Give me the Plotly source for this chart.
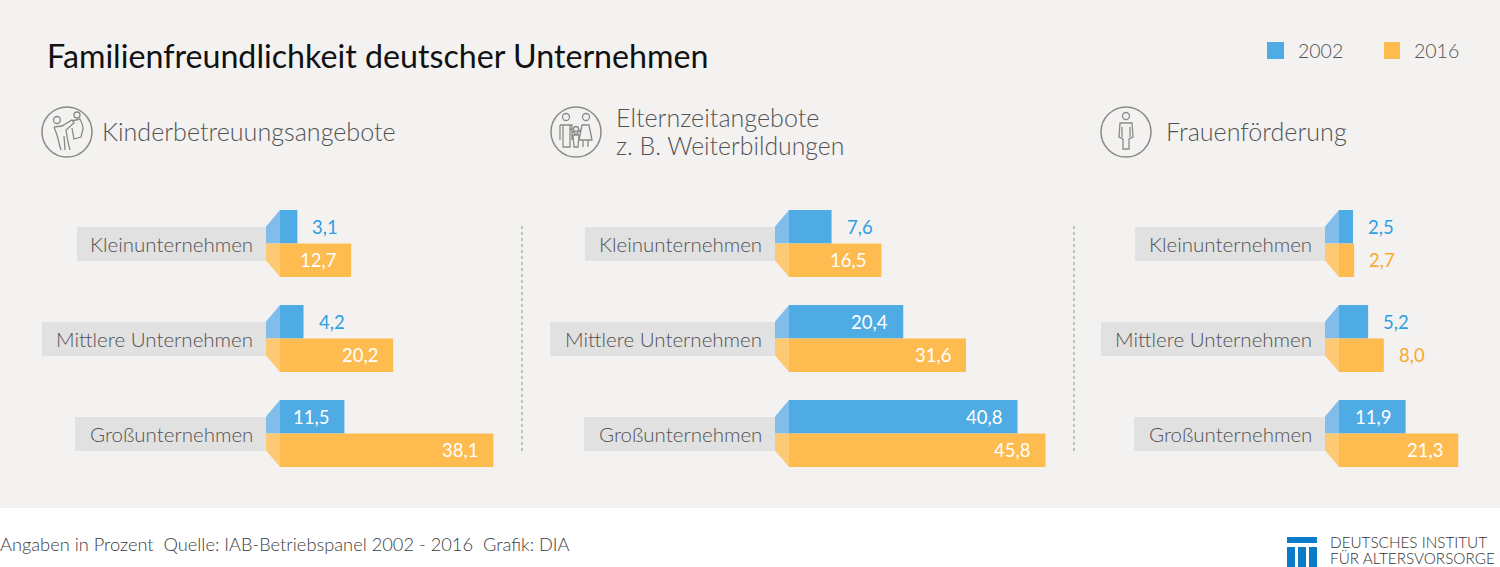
import plotly.graph_objects as go

# data
categories = ["Kleinunternehmen", "Mittlere Unternehmen", "Großunternehmen"]
kinder_2002 = [3.1, 4.2, 11.5]
kinder_2016 = [12.7, 20.2, 38.1]
eltern_2002 = [7.6, 20.4, 40.8]
eltern_2016 = [16.5, 31.6, 45.8]
frauen_2002 = [2.5, 5.2, 11.9]
frauen_2016 = [2.7, 8.0, 21.3]
years = ["2002", "2016"]

W, H = 1500, 567
PX_PER_UNIT = 5.6
ROW_TOP, ROW_BOTTOM = 196, 481
BLUE, BLUE_LIGHT, BLUE_TEXT = "#4fabe3", "#80bdeb", "#2f9fe0"
ORANGE, ORANGE_LIGHT, ORANGE_TEXT = "#fdbb50", "#fdc973", "#f9a92f"
GREY_TEXT = "#525254"
ICON = "#8b8a88"
FONT = "Lato"

# bar origin in px, axis maximum, label band left edge per row
columns = [
    dict(x0=280, xmax=40, series=(kinder_2002, kinder_2016), band=[77, 42, 75]),
    dict(x0=789, xmax=46, series=(eltern_2002, eltern_2016), band=[585, 550, 584]),
    dict(x0=1339, xmax=28, series=(frauen_2002, frauen_2016), band=[1135, 1101, 1134]),
]

fig = go.Figure()
shapes = []
annotations = []


def rect(x0, y0, x1, y1, color, layer="below"):
    shapes.append(dict(type="rect", xref="x", yref="y", x0=x0, y0=y0, x1=x1, y1=y1,
                       fillcolor=color, line_width=0, layer=layer))


def poly(points, color):
    d = "M" + " L".join(f"{x},{y}" for x, y in points) + " Z"
    shapes.append(dict(type="path", xref="x", yref="y", path=d, fillcolor=color,
                       line_width=0, layer="above"))


def stroke(d, width=1.3):
    shapes.append(dict(type="path", xref="x", yref="y", path=d, line=dict(color=ICON, width=width),
                       layer="above"))


def circle(cx, cy, r, width=1.3):
    shapes.append(dict(type="circle", xref="x", yref="y", x0=cx - r, x1=cx + r, y0=cy - r, y1=cy + r,
                       line=dict(color=ICON, width=width), layer="above"))


def text(x, y, s, size, color, anchor="left", weight=400):
    annotations.append(dict(xref="x", yref="y", x=x, y=y, text=s, showarrow=False, xanchor=anchor,
                            yanchor="middle", borderpad=0, borderwidth=0,
                            font=dict(family=FONT, size=size, color=color, weight=weight)))


# overlay axis in page pixels for the decoration
fig.add_trace(go.Scatter(x=[0], y=[0], mode="markers", marker=dict(opacity=0), xaxis="x", yaxis="y",
                         hoverinfo="skip", showlegend=False))
layout_axes = dict(
    xaxis=dict(domain=[0, 1], range=[0, W], visible=False, fixedrange=True),
    yaxis=dict(domain=[0, 1], range=[H, 0], visible=False, fixedrange=True),
)

rect(0, 0, W, 508, "#f3f2f1")

for i, col in enumerate(columns):
    n = i + 2
    xname, yname = f"x{n}", f"y{n}"
    layout_axes[f"xaxis{n}"] = dict(
        domain=[col["x0"] / W, (col["x0"] + col["xmax"] * PX_PER_UNIT) / W],
        range=[0, col["xmax"]], visible=False, fixedrange=True, anchor=yname,
    )
    layout_axes[f"yaxis{n}"] = dict(
        domain=[1 - ROW_BOTTOM / H, 1 - ROW_TOP / H], type="category", categoryorder="array",
        categoryarray=categories, autorange="reversed", visible=False, fixedrange=True, anchor=xname,
    )
    for year, values, color, txt in zip(years, col["series"], (BLUE, ORANGE), (BLUE_TEXT, ORANGE_TEXT)):
        fig.add_trace(go.Bar(
            y=categories, x=values, name=year, orientation="h", marker=dict(color=color, line_width=0),
            xaxis=xname, yaxis=yname, showlegend=False,
        ))
        # value labels: inside the bar when it is long enough, next to it otherwise
        for cat, v in zip(categories, values):
            inside = v > 10
            annotations.append(dict(
                xref=xname, yref=yname, x=v, y=cat, text=f"{v:.1f}".replace(".", ","), showarrow=False,
                xanchor="right" if inside else "left", xshift=-15 if inside else 15,
                yshift=16.7 if year == "2002" else -16.7, borderpad=0, borderwidth=0,
                font=dict(family=FONT, size=18.5, color="white" if inside else txt),
            ))
    # label bands and chamfered bar ends
    for r, cat in enumerate(categories):
        cy = 243.5 + 95 * r
        right = col["x0"] - 14
        rect(col["band"][r], cy - 16.5, right, cy + 17.5, "#e1e1e1")
        text(right - 13, cy, cat, 20.5, GREY_TEXT, "right", 300)
        poly([(right, cy - 17), (col["x0"], cy - 33.5), (col["x0"], cy), (right, cy)], BLUE_LIGHT)
        poly([(right, cy), (col["x0"], cy), (col["x0"], cy + 33.5), (right, cy + 17)], ORANGE_LIGHT)

# title, legend, column heads
text(47, 55, "Familienfreundlichkeit deutscher Unternehmen", 32.2, "#111111")
rect(1267, 42, 1284, 59, BLUE)
rect(1384, 42, 1400, 59, ORANGE)
text(1298, 50, years[0], 19.5, GREY_TEXT, weight=300)
text(1414, 50, years[1], 19.5, GREY_TEXT, weight=300)
text(102, 131, "Kinderbetreuungsangebote", 25.1, GREY_TEXT, weight=300)
text(616, 117, "Elternzeitangebote", 25.1, GREY_TEXT, weight=300)
text(616, 145, "z. B. Weiterbildungen", 24.8, GREY_TEXT, weight=300)
text(1166, 131, "Frauenförderung", 25.1, GREY_TEXT, weight=300)

# dotted separators
for x in (522, 1074):
    shapes.append(dict(type="line", xref="x", yref="y", x0=x, x1=x, y0=226, y1=451,
                       line=dict(color="#8f8f8f", width=1, dash="dot")))

# icons
for cx in (67, 576, 1126):
    circle(cx, 132, 25, 1.5)
# adult with child
circle(57, 120, 3.5)
circle(77, 115, 3)
stroke("M54,127 L62,126 L72,120 L74,123 L66,130 C67,137 68,143 70,150 M54,127 C56,132 58,137 59,143 L61,150 "
       "M64,136 L65,150 M72,121 L80,119 C82,123 83,126 83,129 L81,137 L74,139 L72,128")
# family
circle(566, 117, 3.5)
circle(586, 117, 3.5)
circle(576, 129, 2.5)
stroke("M560,125 L572,125 L572,140 M560,125 L560,140 M563,125 L563,147 L570,147 L570,125 M582,125 L589,125 "
       "L592,140 L579,140 Z M583,140 L583,147 M588,140 L588,147 M570,128 L576,135 L582,128 "
       "M573,135 L579,135 L578,147 L574,147 Z")
# woman
circle(1126, 116, 3.5)
stroke("M1120,123 L1132,123 L1133,137 L1129,139 L1129,149 L1123,149 L1123,139 L1119,137 Z M1122,127 L1122,137 M1130,127 L1130,137")

# footer
text(0, 544, "Angaben in Prozent  Quelle: IAB-Betriebspanel 2002 - 2016  Grafik: DIA", 18.25, "#3c3c3c", weight=300)
rect(1287, 537, 1317, 543, "#0a7bc9", "above")
for x in (1287, 1298, 1309):
    rect(x, 547, x + 8, 567, "#0a7bc9", "above")
text(1330, 542, "DEUTSCHES INSTITUT", 15.3, "#333333", weight=300)
text(1330, 558, "FÜR ALTERSVORSORGE", 15.3, "#333333", weight=300)

fig.update_layout(
    width=W, height=H, margin=dict(l=0, r=0, t=0, b=0), paper_bgcolor="white", plot_bgcolor="rgba(0,0,0,0)",
    barmode="group", bargap=0.295, bargroupgap=0, showlegend=False,
    shapes=shapes, annotations=annotations, **layout_axes,
)
fig.write_html("out.html", post_script="document.body.style.margin='0';document.body.style.overflow='hidden';",
               config=dict(displayModeBar=False))
